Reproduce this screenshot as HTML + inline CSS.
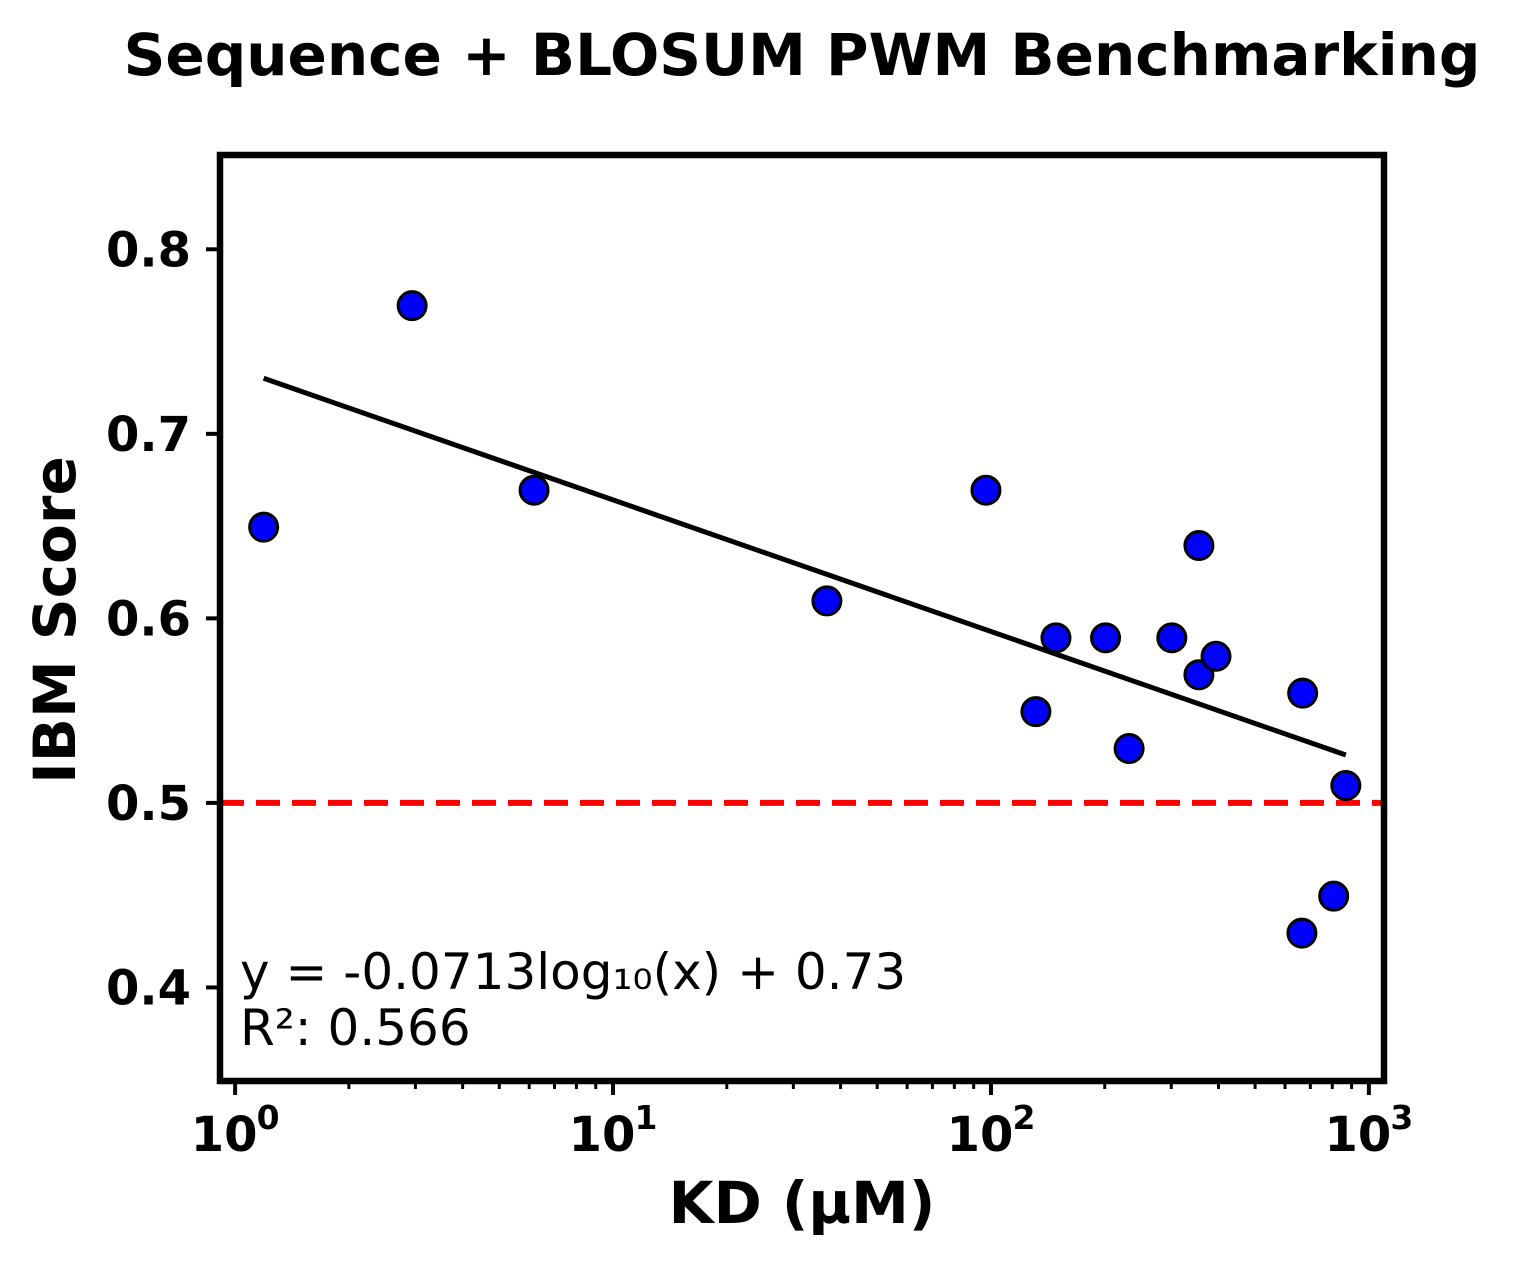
<!DOCTYPE html>
<html><head><meta charset="utf-8"><style>
html,body{margin:0;padding:0;background:#fff;}
svg text{font-family:"DejaVu Sans","Liberation Sans",sans-serif;}
</style></head><body>
<svg id="chart" width="1516" height="1264" viewBox="0 0 1516 1264" xmlns="http://www.w3.org/2000/svg">
<rect width="1516" height="1264" fill="#fff"/>
<text x="802" y="75" text-anchor="middle" font-size="58" font-weight="bold">Sequence + BLOSUM PWM Benchmarking</text>
<g id="plot"></g>
</svg>
<script>
const kdValues=[1.19,2.94,6.18,36.8,97,131.5,148.6,201,232,301,355,355,394,668,665,807,869];
const scoreValues=[0.65,0.77,0.67,0.61,0.67,0.55,0.59,0.59,0.53,0.59,0.64,0.57,0.58,0.56,0.43,0.45,0.51];
const yTicks=[0.4,0.5,0.6,0.7,0.8];
const xTickExps=[0,1,2,3];
const fitSlope=-0.0713, fitIntercept=0.7355;
const threshold=0.5;
const L=220,R=1384,T=155,B=1081;
const xMinLog=-0.04,xMaxLog=3.04,yMin=0.3493,yMax=0.8511;
function X(v){return L+(Math.log10(v)-xMinLog)/(xMaxLog-xMinLog)*(R-L);}
function Y(v){return B-(v-yMin)/(yMax-yMin)*(B-T);}
const NS="http://www.w3.org/2000/svg";
const g=document.getElementById('plot');
function mk(t,a,txt){const e=document.createElementNS(NS,t);for(const k in a)e.setAttribute(k,a[k]);if(txt!==undefined)e.textContent=txt;g.appendChild(e);return e;}
let th=mk('line',{x1:L,x2:R,y1:Y(threshold),y2:Y(threshold),stroke:'#ff0000','stroke-width':6,'stroke-dasharray':'24,12'});


const x0=Math.min(...kdValues),x1=Math.max(...kdValues);
let fl=mk('line',{x1:X(x0),x2:X(x1),y1:Y(fitSlope*Math.log10(x0)+fitIntercept),y2:Y(fitSlope*Math.log10(x1)+fitIntercept),stroke:'#000','stroke-width':5});


kdValues.forEach((k,i)=>{
 const c=mk('circle',{cx:X(k),cy:Y(scoreValues[i])+1,r:14,fill:'#0000ff',stroke:'#000','stroke-width':3});
 
 
});
let fr=mk('rect',{x:L,y:T,width:R-L,height:B-T,fill:'none',stroke:'#000','stroke-width':6.5});


yTicks.forEach(v=>{
 mk('line',{x1:L-14,x2:L,y1:Y(v),y2:Y(v),stroke:'#000','stroke-width':4});
 const t=mk('text',{x:L-29,y:Y(v)+17,'text-anchor':'end','font-size':48,'font-weight':'bold'},v.toFixed(1));
 
 
});
xTickExps.forEach(e=>{
 const x=X(Math.pow(10,e));
 mk('line',{x1:x,x2:x,y1:B,y2:B+14,stroke:'#000','stroke-width':4});
 const t=mk('text',{x:x-11,y:B+70,'text-anchor':'middle','font-size':48,'font-weight':'bold'},'10');
 
 
 mk('text',{x:x+33,y:B+48,'text-anchor':'middle','font-size':33,'font-weight':'bold'},String(e));
});
for(let e=-1;e<=3;e++)for(let m=2;m<=9;m++){const v=m*Math.pow(10,e);const x=X(v);if(x<L||x>R)continue;mk('line',{x1:x,x2:x,y1:B,y2:B+8,stroke:'#000','stroke-width':3});}
let xl=mk('text',{x:802,y:1223,'text-anchor':'middle','font-size':58,'font-weight':'bold'},'KD (µM)');


let yl=mk('text',{x:0,y:0,'text-anchor':'middle','font-size':58,'font-weight':'bold',transform:'translate(75,620) rotate(-90)'},'IBM Score');


let a1=mk('text',{x:240,y:989,'font-size':50},'y = -0.0713log₁₀(x) + 0.73');


let a2=mk('text',{x:240,y:1045,'font-size':50},'R²: 0.566');


</script>
</body></html>
